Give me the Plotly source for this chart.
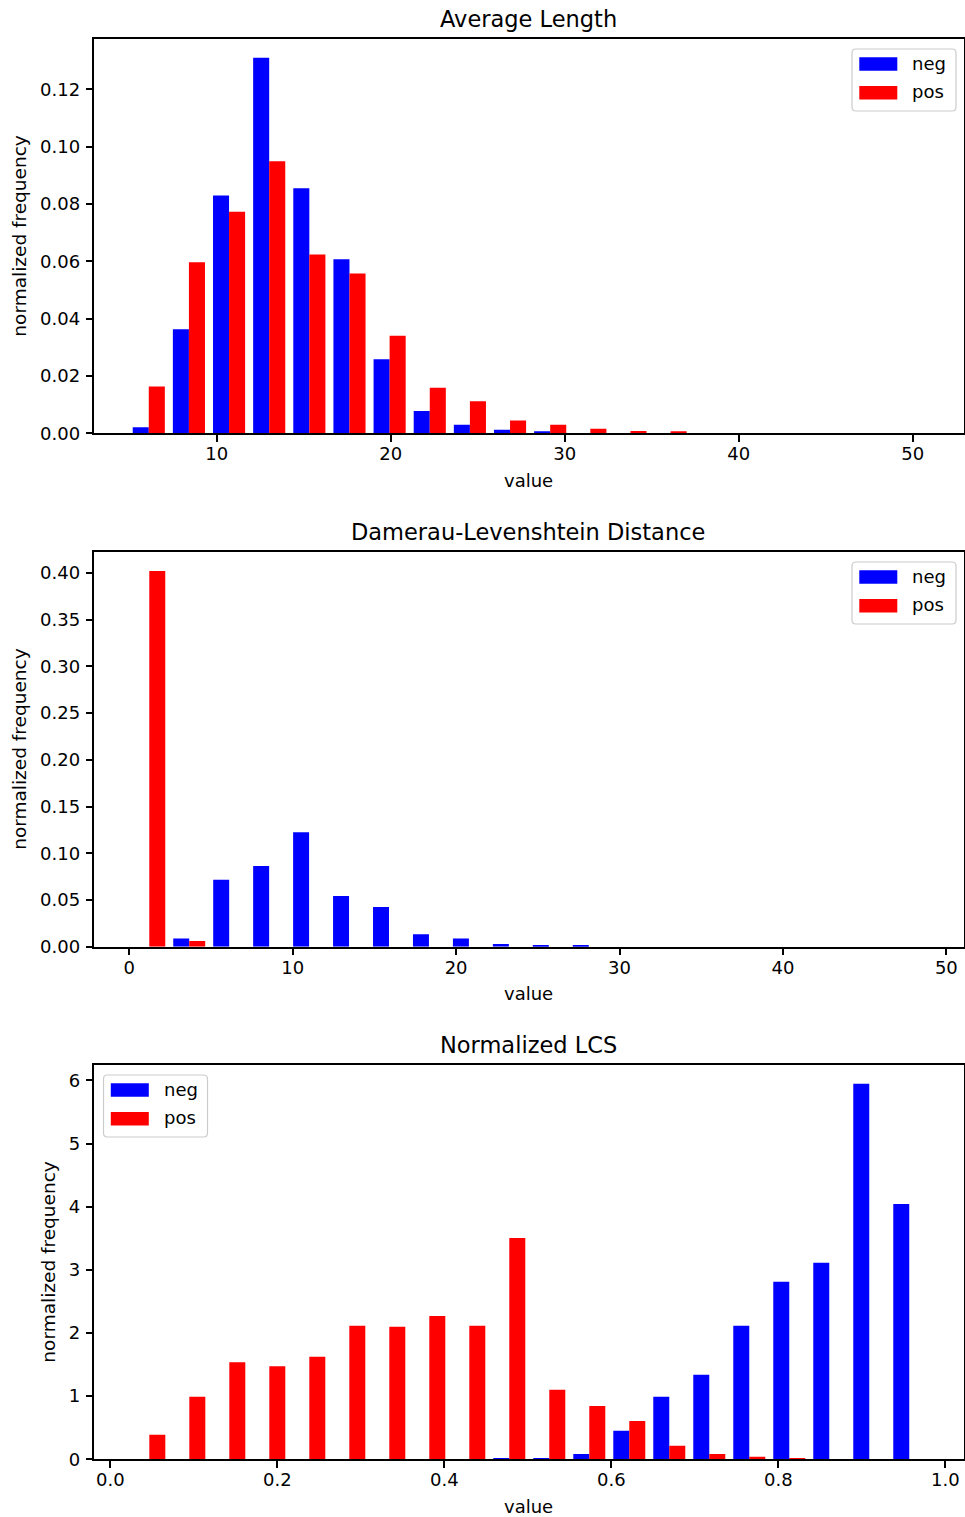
import numpy as np
import plotly.graph_objects as go

# ---------------- data ----------------
series_names = ["neg", "pos"]
series_colors = ["#0000ff", "#ff0000"]
panel_titles = ["Average Length", "Damerau-Levenshtein Distance", "Normalized LCS"]
x_label = "value"
y_label = "normalized frequency"

# Panel 1: Average Length (20 histogram bins)
len_bin_start = 4.943
len_bin_width = 2.307
len_neg = [0.0021, 0.0363, 0.0830, 0.1311, 0.0855, 0.0607, 0.0258, 0.0078, 0.0030, 0.0012,
           0.0007, 0.0, 0.0, 0.0, 0.0, 0.0, 0.0, 0.0, 0.0, 0.0]
len_pos = [0.0163, 0.0597, 0.0773, 0.0949, 0.0624, 0.0558, 0.0340, 0.0159, 0.0112, 0.0045,
           0.0030, 0.0016, 0.0008, 0.0007, 0.0, 0.0, 0.0, 0.0, 0.0, 0.0]
len_xticks = [10, 20, 30, 40, 50]
len_yticks = [0.00, 0.02, 0.04, 0.06, 0.08, 0.10, 0.12]

# Panel 2: Damerau-Levenshtein Distance
dl_bin_start = 0.0
dl_bin_width = 2.445
dl_neg = [0.0, 0.0089, 0.0717, 0.0863, 0.1226, 0.0542, 0.0424, 0.0132, 0.0089, 0.0029,
          0.0014, 0.0014, 0.0, 0.0, 0.0, 0.0, 0.0, 0.0, 0.0, 0.0]
dl_pos = [0.4021, 0.0061, 0.0, 0.0, 0.0, 0.0, 0.0, 0.0, 0.0, 0.0,
          0.0, 0.0, 0.0, 0.0, 0.0, 0.0, 0.0, 0.0, 0.0, 0.0]
dl_xticks = [0, 10, 20, 30, 40, 50]
dl_yticks = [0.00, 0.05, 0.10, 0.15, 0.20, 0.25, 0.30, 0.35, 0.40]

# Panel 3: Normalized LCS
lcs_bin_start = 0.0228
lcs_bin_width = 0.0479
lcs_neg = [0.0, 0.0, 0.0, 0.0, 0.0, 0.0, 0.0, 0.0, 0.0, 0.021,
           0.021, 0.084, 0.454, 0.992, 1.340, 2.116, 2.813, 3.113, 5.947, 4.042]
lcs_pos = [0.390, 0.992, 1.536, 1.472, 1.625, 2.116, 2.100, 2.269, 2.116, 3.504,
           1.103, 0.844, 0.607, 0.216, 0.084, 0.042, 0.021, 0.0, 0.0, 0.0]
lcs_xticks = [0.0, 0.2, 0.4, 0.6, 0.8, 1.0]
lcs_yticks = [0, 1, 2, 3, 4, 5, 6]

# ---------------- layout geometry (pixels) ----------------
W, H = 965, 1517
PLOT_L, PLOT_R = 94, 964
panel_px = [(39.0, 433.3), (552.0, 946.7), (1065.0, 1459.3)]   # (top, bottom)
x_ranges = [[2.948, 52.95], [-2.160, 51.08], [-0.0195, 1.0224]]
y_ranges = [[0, 0.1376], [0, 0.4225], [0, 6.244]]
tick_formats_x = ["d", "d", ".1f"]
tick_formats_y = [".2f", ".2f", "d"]
legend_side = ["right", "right", "left"]
ylabel_cx = [19.5, 19.5, 48.5]

FONT = "DejaVu Sans"
TXT = "#000000"


def px_x(px):
    return px / W


def px_y(py):
    return 1 - py / H


panels = [
    (len_bin_start, len_bin_width, len_neg, len_pos, len_xticks, len_yticks),
    (dl_bin_start, dl_bin_width, dl_neg, dl_pos, dl_xticks, dl_yticks),
    (lcs_bin_start, lcs_bin_width, lcs_neg, lcs_pos, lcs_xticks, lcs_yticks),
]

fig = go.Figure()
annotations = []
shapes = []

for i, (b0, bw, neg, pos, xt, yt) in enumerate(panels):
    n = len(neg)
    edges = b0 + bw * np.arange(n)
    xa = "x" if i == 0 else f"x{i+1}"
    ya = "y" if i == 0 else f"y{i+1}"
    for j, (vals, name, col) in enumerate(zip([neg, pos], series_names, series_colors)):
        centers = edges + (0.3 + 0.4 * j) * bw
        fig.add_trace(go.Bar(
            x=centers, y=vals, width=0.4 * bw, name=name,
            marker=dict(color=col, line=dict(width=0)),
            xaxis=xa, yaxis=ya, showlegend=False,
        ))

    top, bot = panel_px[i]
    ax_common = dict(
        showline=True, linecolor="black", linewidth=1.5, mirror=True,
        ticks="outside", ticklen=6.5, tickwidth=1.5, tickcolor="black",
        showgrid=False, zeroline=False,
        tickfont=dict(family=FONT, size=18, color=TXT),
    )
    xkey = "xaxis" if i == 0 else f"xaxis{i+1}"
    ykey = "yaxis" if i == 0 else f"yaxis{i+1}"
    fig.layout[xkey] = dict(
        domain=[px_x(PLOT_L), px_x(PLOT_R)], anchor=ya, range=x_ranges[i],
        tickmode="array", tickvals=xt, tickformat=tick_formats_x[i],
        ticklabelstandoff=-3, **ax_common)
    fig.layout[ykey] = dict(
        domain=[px_y(bot), px_y(top)], anchor=xa, range=y_ranges[i],
        tickmode="array", tickvals=yt, tickformat=tick_formats_y[i],
        ticklabelstandoff=2, **ax_common)

    cx = (PLOT_L + PLOT_R) / 2
    # panel title
    annotations.append(dict(
        text=panel_titles[i], x=px_x(cx - 1), y=px_y(top - 20.0), xref="paper", yref="paper",
        xanchor="center", yanchor="middle", showarrow=False,
        font=dict(family=FONT, size=22.5, color=TXT)))
    # x label
    annotations.append(dict(
        text=x_label, x=px_x(cx - 1), y=px_y(bot + 47.0), xref="paper", yref="paper",
        xanchor="center", yanchor="middle", showarrow=False,
        font=dict(family=FONT, size=18, color=TXT)))
    # y label
    annotations.append(dict(
        text=y_label, x=px_x(ylabel_cx[i]), y=px_y((top + bot) / 2), xref="paper", yref="paper",
        xanchor="center", yanchor="middle", textangle=-90, showarrow=False,
        font=dict(family=FONT, size=18.5, color=TXT)))

    # legend box (matplotlib style)
    bx_w, bx_h = 104.0, 62.0
    if legend_side[i] == "right":
        bx0 = 956.0 - bx_w
    else:
        bx0 = 103.5
    by0 = top + 10.0
    bx1, by1 = bx0 + bx_w, by0 + bx_h
    r = 4.0
    p = (f"M {px_x(bx0 + r)},{px_y(by0)} L {px_x(bx1 - r)},{px_y(by0)} "
         f"Q {px_x(bx1)},{px_y(by0)} {px_x(bx1)},{px_y(by0 + r)} "
         f"L {px_x(bx1)},{px_y(by1 - r)} Q {px_x(bx1)},{px_y(by1)} {px_x(bx1 - r)},{px_y(by1)} "
         f"L {px_x(bx0 + r)},{px_y(by1)} Q {px_x(bx0)},{px_y(by1)} {px_x(bx0)},{px_y(by1 - r)} "
         f"L {px_x(bx0)},{px_y(by0 + r)} Q {px_x(bx0)},{px_y(by0)} {px_x(bx0 + r)},{px_y(by0)} Z")
    shapes.append(dict(type="path", path=p, xref="paper", yref="paper",
                       fillcolor="rgba(255,255,255,0.8)", line=dict(color="#cccccc", width=1.2),
                       layer="above"))
    for j, (name, col) in enumerate(zip(series_names, series_colors)):
        py0 = by0 + 8.3 + 28.7 * j
        py1 = py0 + 13.5
        shapes.append(dict(type="rect", xref="paper", yref="paper",
                           x0=px_x(bx0 + 7.3), x1=px_x(bx0 + 45.3),
                           y0=px_y(py1), y1=px_y(py0),
                           fillcolor=col, line=dict(width=0), layer="above"))
        annotations.append(dict(
            text=name, x=px_x(bx0 + 58.0), y=px_y((py0 + py1) / 2 - 0.8), xref="paper", yref="paper",
            xanchor="left", yanchor="middle", showarrow=False,
            font=dict(family=FONT, size=18, color=TXT)))

fig.update_layout(
    width=W, height=H, template="none",
    margin=dict(l=0, r=0, t=0, b=0, pad=0),
    paper_bgcolor="white", plot_bgcolor="white",
    barmode="overlay", showlegend=False,
    annotations=annotations, shapes=shapes,
    font=dict(family=FONT, size=18, color=TXT),
)

fig.write_html("out.html")
